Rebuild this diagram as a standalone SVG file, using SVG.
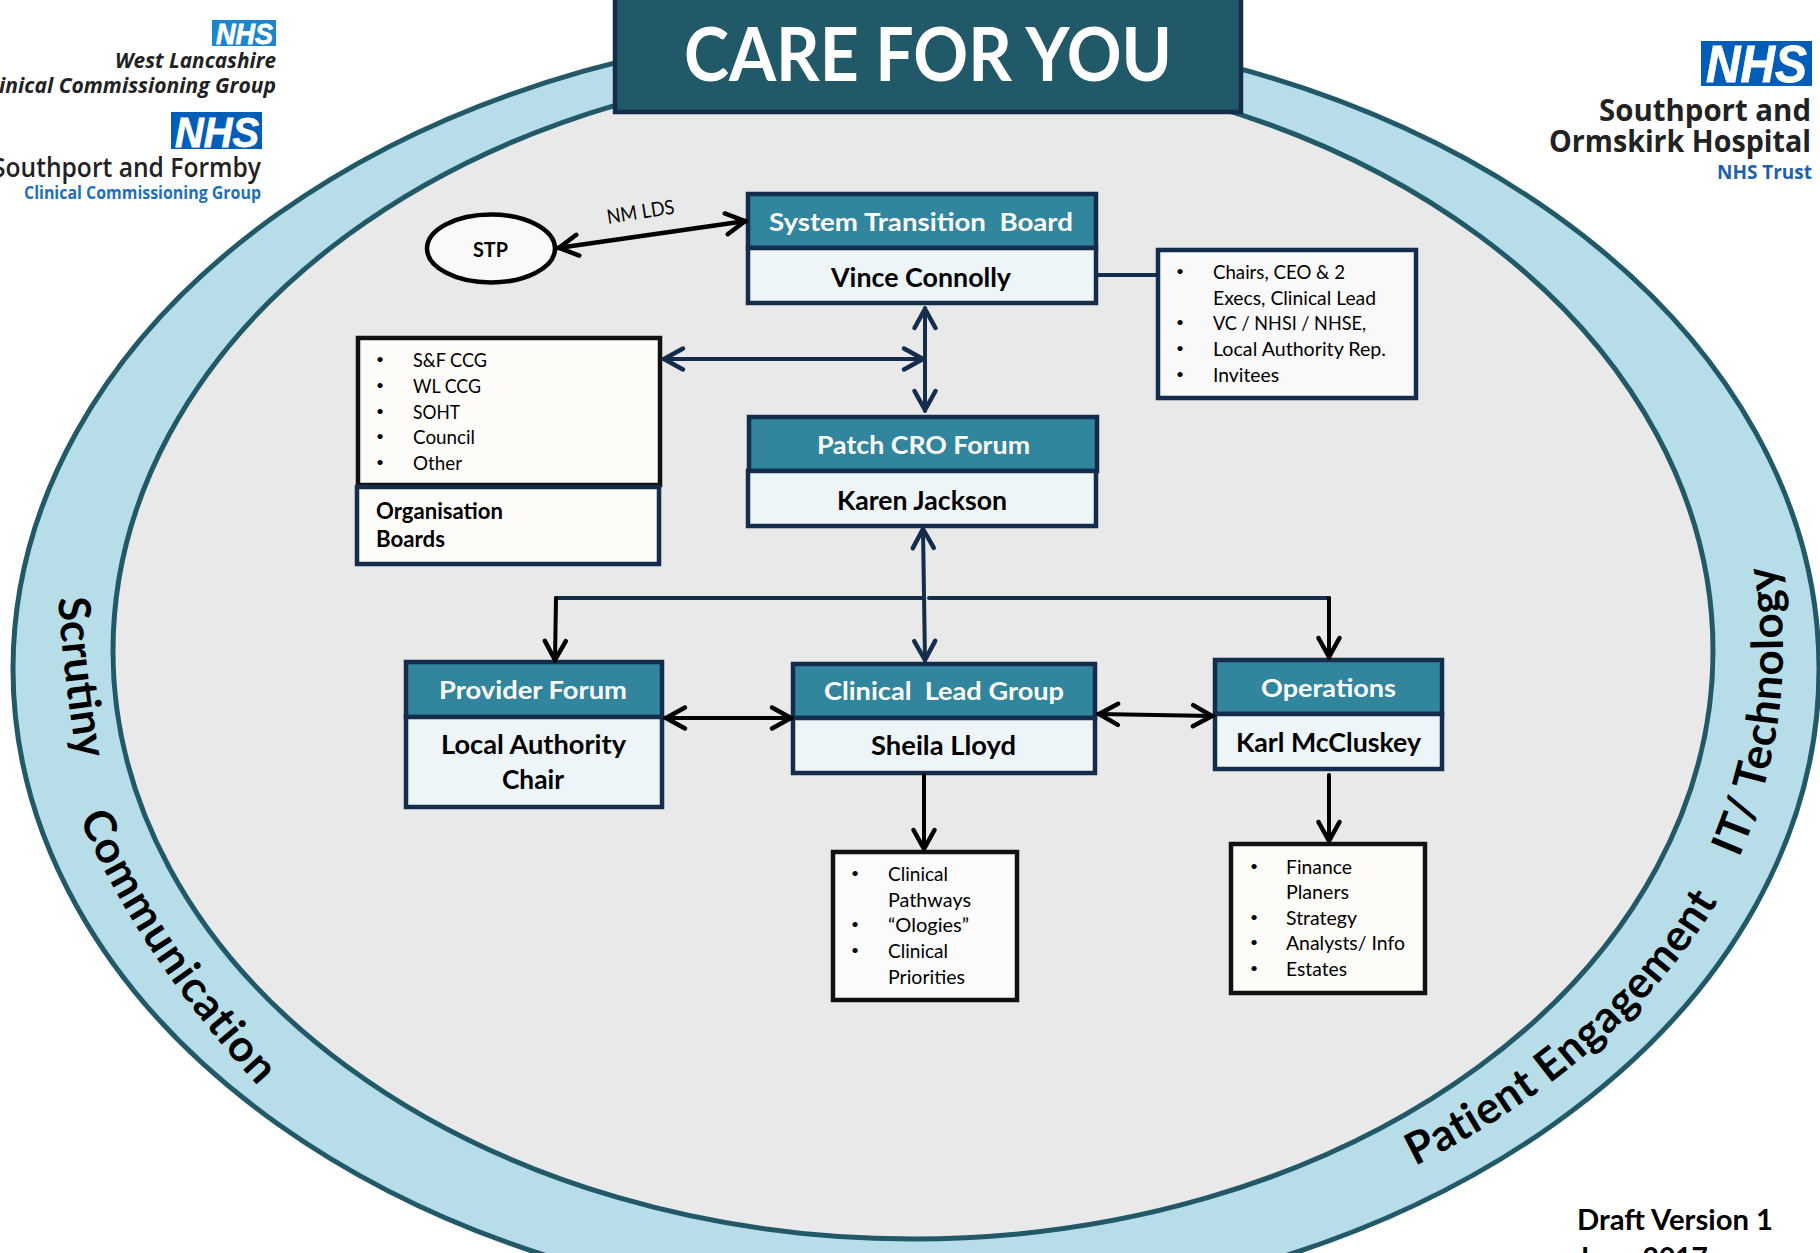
<svg xmlns="http://www.w3.org/2000/svg" width="1820" height="1253" viewBox="0 0 1820 1253">
<style>
text{font-family:"Lato","Liberation Sans",sans-serif;fill:#000}
.hd{fill:#31859c;stroke:#142d4c;stroke-width:4.5}
.bd{fill:#edf5f8;stroke:#142d4c;stroke-width:4.5}
.ht{font-size:25px;font-weight:700;fill:#fff;text-anchor:start}
.nm{font-size:26px;font-weight:700}
.li{font-size:20px}
.bu{font-size:14px}
.box{fill:#fdfcf8;stroke:#111;stroke-width:4.5}
.nv{fill:#fdfcf8;stroke:#142d4c;stroke-width:4.5}
.ring{font-size:44px;font-weight:700}
.a{fill:none;stroke-width:4;stroke-linecap:round}
.n{stroke:#142d4c;marker-end:url(#an)}
.k{stroke:#000;marker-end:url(#ak)}
.n2{marker-start:url(#an)}
.k2{marker-start:url(#ak)}
.lg{font-family:"Open Sans","Liberation Sans",sans-serif;fill:#222}
.nhs{font-family:"Liberation Sans",sans-serif;font-weight:700;font-style:italic;fill:#fff;stroke:#fff;stroke-width:.8}
</style>
<defs>
<marker id="an" markerUnits="userSpaceOnUse" viewBox="-24 -14 28 28" refX="0" refY="0" markerWidth="28" markerHeight="28" orient="auto-start-reverse"><path d="M-20,-10.500 L-1,0 L-20,10.500" fill="none" stroke="#142d4c" stroke-width="4.500" stroke-linecap="round" stroke-linejoin="round"/></marker>
<marker id="ak" markerUnits="userSpaceOnUse" viewBox="-24 -14 28 28" refX="0" refY="0" markerWidth="28" markerHeight="28" orient="auto-start-reverse"><path d="M-20,-10.500 L-1,0 L-20,10.500" fill="none" stroke="#000" stroke-width="4.500" stroke-linecap="round" stroke-linejoin="round"/></marker>
<path id="p1" d="M58,598 Q64,682 78,764"/>
<path id="p2" d="M79,818 Q142,960 258,1086"/>
<path id="p3" d="M1415,1166 A865,620 0 0 0 1730,880"/>
<path id="p4" d="M1739,858 A862,660 0 0 0 1773,550"/>
</defs>
<g id="ring">
<ellipse cx="916" cy="669" rx="903" ry="643" fill="#b7dde8" stroke="#215968" stroke-width="5"/>
<ellipse cx="913" cy="651" rx="800" ry="588" fill="#e9e9e9" stroke="#215968" stroke-width="5"/>
<text class="ring"><textPath href="#p1">Scrutiny</textPath></text>
<text class="ring" letter-spacing="1.200"><textPath href="#p2">Communication</textPath></text>
<text class="ring" letter-spacing=".8"><textPath href="#p3">Patient Engagement</textPath></text>
<text class="ring" letter-spacing=".7"><textPath href="#p4">IT/ Technology</textPath></text>
</g>
<g id="logo-wl">
<rect x="212" y="20" width="64" height="26" fill="#1c86cc"/>
<text class="nhs" x="216" y="44" font-size="29" textLength="57" lengthAdjust="spacingAndGlyphs">NHS</text>
<text class="lg" x="115" y="68" font-size="21" font-weight="700" font-style="italic" textLength="161" lengthAdjust="spacingAndGlyphs">West Lancashire</text>
<text class="lg" x="-20" y="93" font-size="21" font-weight="700" font-style="italic" textLength="296" lengthAdjust="spacingAndGlyphs">Clinical Commissioning Group</text>
</g>
<g id="logo-sf">
<rect x="171" y="112" width="91" height="37" fill="#005eb8"/>
<text class="nhs" x="175" y="147" font-size="42" textLength="84" lengthAdjust="spacingAndGlyphs">NHS</text>
<text class="lg" x="-8" y="177" font-size="27" font-weight="600" textLength="269" lengthAdjust="spacingAndGlyphs">Southport and Formby</text>
<text class="lg" x="24" y="199" font-size="17" font-weight="700" style="fill:#1e6fc0" textLength="237" lengthAdjust="spacingAndGlyphs">Clinical Commissioning Group</text>
</g>
<g id="logo-soh">
<rect x="1701" y="41" width="111" height="45" fill="#005eb8"/>
<text class="nhs" x="1706" y="82" font-size="52" textLength="101" lengthAdjust="spacingAndGlyphs">NHS</text>
<text class="lg" x="1599" y="121" font-size="31" font-weight="700" textLength="212" lengthAdjust="spacingAndGlyphs">Southport and</text>
<text class="lg" x="1549" y="152" font-size="31" font-weight="700" textLength="262" lengthAdjust="spacingAndGlyphs">Ormskirk Hospital</text>
<text class="lg" x="1717" y="179" font-size="20" font-weight="700" style="fill:#1e5fae" textLength="95" lengthAdjust="spacingAndGlyphs">NHS Trust</text>
</g>
<g id="banner">
<rect x="615" y="-6" width="626" height="118" fill="#215968" stroke="#142d4c" stroke-width="4.500"/>
<text x="684" y="81" font-size="74" font-weight="700" style="fill:#fff" textLength="488" lengthAdjust="spacingAndGlyphs">CARE FOR YOU</text>
</g>
<g id="stp">
<ellipse cx="491" cy="248.500" rx="64" ry="34" fill="#f9f9f9" stroke="#000" stroke-width="4.500"/>
<text x="473" y="257" font-size="21" font-weight="700" textLength="35" lengthAdjust="spacingAndGlyphs">STP</text>
</g>
<g id="system-board">
<rect class="hd" x="748" y="194" width="348" height="54"/>
<rect class="bd" x="748" y="248" width="348" height="55"/>
<text class="ht" x="769" y="231" textLength="304" lengthAdjust="spacingAndGlyphs" xml:space="preserve">System Transition  Board</text>
<text class="nm" x="831" y="287" textLength="180" lengthAdjust="spacingAndGlyphs">Vince Connolly</text>
</g>
<g id="system-members">
<rect x="1158" y="250" width="258" height="148" fill="#f9f9f9" stroke="#142d4c" stroke-width="4.500"/>
<text class="bu" x="1176" y="276">•</text><text class="li" x="1213" y="279" textLength="132" lengthAdjust="spacingAndGlyphs">Chairs, CEO &amp; 2</text>
<text class="li" x="1213" y="305" textLength="163" lengthAdjust="spacingAndGlyphs">Execs, Clinical Lead</text>
<text class="bu" x="1176" y="327">•</text><text class="li" x="1213" y="330" textLength="153" lengthAdjust="spacingAndGlyphs">VC / NHSI / NHSE,</text>
<text class="bu" x="1176" y="353">•</text><text class="li" x="1213" y="356" textLength="173" lengthAdjust="spacingAndGlyphs">Local Authority Rep.</text>
<text class="bu" x="1176" y="379">•</text><text class="li" x="1213" y="382" textLength="66" lengthAdjust="spacingAndGlyphs">Invitees</text>
</g>
<g id="org-list">
<rect class="box" x="358" y="338" width="302" height="147"/>
<text class="bu" x="376" y="364">•</text><text class="li" x="413" y="367" textLength="74" lengthAdjust="spacingAndGlyphs">S&amp;F CCG</text>
<text class="bu" x="376" y="390">•</text><text class="li" x="413" y="393" textLength="68" lengthAdjust="spacingAndGlyphs">WL CCG</text>
<text class="bu" x="376" y="416">•</text><text class="li" x="413" y="419" textLength="47" lengthAdjust="spacingAndGlyphs">SOHT</text>
<text class="bu" x="376" y="441">•</text><text class="li" x="413" y="444" textLength="62" lengthAdjust="spacingAndGlyphs">Council</text>
<text class="bu" x="376" y="467">•</text><text class="li" x="413" y="470" textLength="49" lengthAdjust="spacingAndGlyphs">Other</text>
</g>
<g id="org-boards">
<rect class="nv" x="357" y="487" width="302" height="77"/>
<text x="376" y="519" font-size="22" font-weight="700" textLength="127" lengthAdjust="spacingAndGlyphs">Organisation</text>
<text x="376" y="547" font-size="22" font-weight="700" textLength="69" lengthAdjust="spacingAndGlyphs">Boards</text>
</g>
<g id="patch-forum">
<rect class="hd" x="749" y="417" width="348" height="54"/>
<rect class="bd" x="748" y="471" width="348" height="55"/>
<text class="ht" x="817" y="454" textLength="213" lengthAdjust="spacingAndGlyphs">Patch CRO Forum</text>
<text class="nm" x="837" y="510" textLength="170" lengthAdjust="spacingAndGlyphs">Karen Jackson</text>
</g>
<g id="provider-forum">
<rect class="hd" x="406" y="662" width="256" height="55"/>
<rect class="bd" x="406" y="717" width="256" height="90"/>
<text class="ht" x="439" y="699" textLength="188" lengthAdjust="spacingAndGlyphs">Provider Forum</text>
<text class="nm" x="441" y="754" textLength="185" lengthAdjust="spacingAndGlyphs">Local Authority</text>
<text class="nm" x="502" y="789" textLength="62" lengthAdjust="spacingAndGlyphs">Chair</text>
</g>
<g id="clinical-lead">
<rect class="hd" x="793" y="664" width="302" height="54"/>
<rect class="bd" x="793" y="718" width="302" height="55"/>
<text class="ht" x="824" y="700" textLength="240" lengthAdjust="spacingAndGlyphs" xml:space="preserve">Clinical  Lead Group</text>
<text class="nm" x="871" y="755" textLength="145" lengthAdjust="spacingAndGlyphs">Sheila Lloyd</text>
</g>
<g id="operations">
<rect class="hd" x="1215" y="660" width="227" height="54"/>
<rect class="bd" x="1215" y="714" width="227" height="55"/>
<text class="ht" x="1261" y="697" textLength="135" lengthAdjust="spacingAndGlyphs">Operations</text>
<text class="nm" x="1236" y="752" textLength="185" lengthAdjust="spacingAndGlyphs">Karl McCluskey</text>
</g>
<g id="clinical-list">
<rect x="833" y="852" width="184" height="148" fill="#fbfbfb" stroke="#111" stroke-width="4.500"/>
<text class="bu" x="851" y="878">•</text><text class="li" x="888" y="881" textLength="60" lengthAdjust="spacingAndGlyphs">Clinical</text>
<text class="li" x="888" y="907" textLength="83" lengthAdjust="spacingAndGlyphs">Pathways</text>
<text class="bu" x="851" y="929">•</text><text class="li" x="888" y="932" textLength="81" lengthAdjust="spacingAndGlyphs">“Ologies”</text>
<text class="bu" x="851" y="955">•</text><text class="li" x="888" y="958" textLength="60" lengthAdjust="spacingAndGlyphs">Clinical</text>
<text class="li" x="888" y="984" textLength="77" lengthAdjust="spacingAndGlyphs">Priorities</text>
</g>
<g id="ops-list">
<rect class="box" x="1231" y="844" width="194" height="149"/>
<text class="bu" x="1250" y="871">•</text><text class="li" x="1286" y="874" textLength="66" lengthAdjust="spacingAndGlyphs">Finance</text>
<text class="li" x="1286" y="899" textLength="63" lengthAdjust="spacingAndGlyphs">Planers</text>
<text class="bu" x="1250" y="922">•</text><text class="li" x="1286" y="925" textLength="71" lengthAdjust="spacingAndGlyphs">Strategy</text>
<text class="bu" x="1250" y="947">•</text><text class="li" x="1286" y="950" textLength="119" lengthAdjust="spacingAndGlyphs">Analysts/ Info</text>
<text class="bu" x="1250" y="973">•</text><text class="li" x="1286" y="976" textLength="61" lengthAdjust="spacingAndGlyphs">Estates</text>
</g>
<g id="connectors">
<path class="a k k2" style="stroke-width:4.500" d="M558,248 L746,221"/>
<path class="a" stroke="#142d4c" d="M1098,275 L1156,275"/>
<path class="a n n2" d="M925,308 L925,411"/>
<path class="a n n2" d="M663,359 L924,359"/>
<path class="a n n2" d="M923,528 L925,661"/>
<path class="a" stroke="#142d4c" d="M556,598 L923,598"/>
<path class="a" stroke="#142d4c" d="M929,598 L1329,598"/>
<path class="a k" d="M556,598 L555,661"/>
<path class="a k" d="M1329,598 L1329,658"/>
<path class="a k k2" d="M665,718 L792,718"/>
<path class="a k k2" d="M1098,714 L1213,716"/>
<path class="a k" d="M924,775 L924,850"/>
<path class="a k" d="M1329,775 L1329,842"/>
</g>
<text transform="translate(608,224) rotate(-9)" font-size="20" textLength="68" lengthAdjust="spacingAndGlyphs">NM LDS</text>
<g id="version">
<text x="1577" y="1230" font-size="28" font-weight="700" textLength="196" lengthAdjust="spacingAndGlyphs">Draft Version 1</text>
<text x="1577" y="1268" font-size="28" font-weight="700" textLength="131" lengthAdjust="spacingAndGlyphs">June 2017</text>
</g>
</svg>
